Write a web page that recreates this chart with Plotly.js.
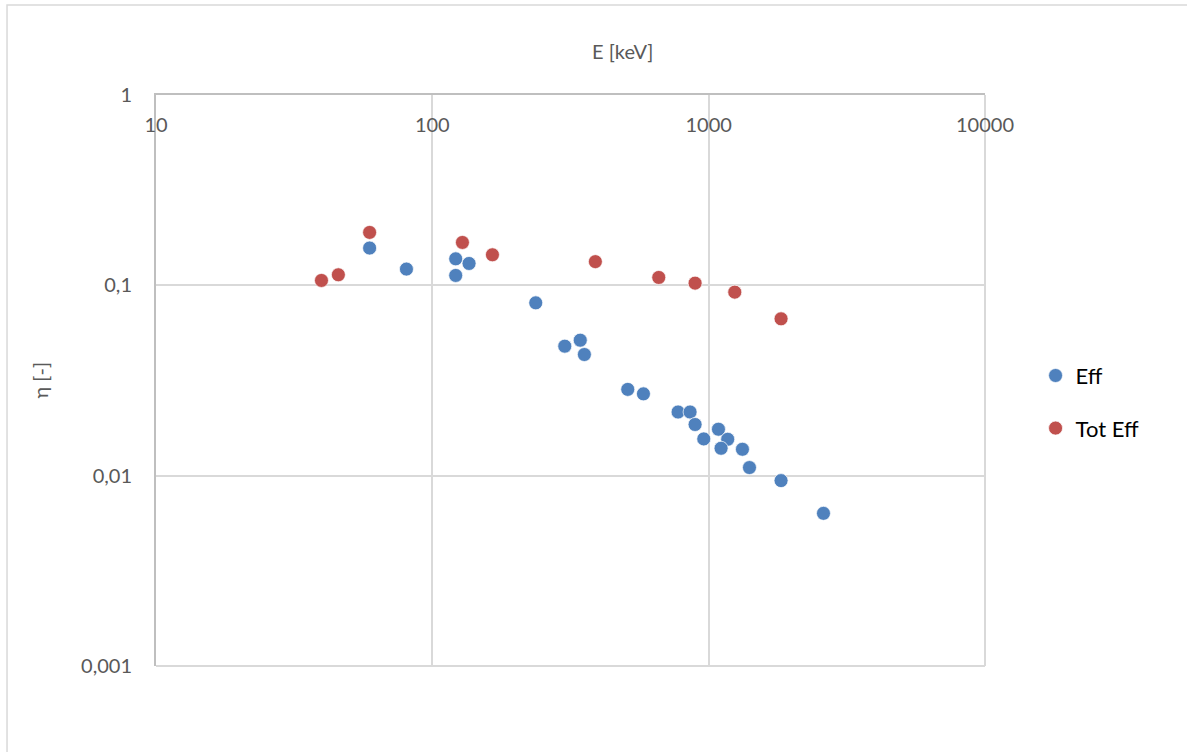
<!DOCTYPE html>
<html>
<head>
<meta charset="utf-8">
<script src="https://cdn.plot.ly/plotly-3.0.1.min.js"></script>
<style>html,body{margin:0;padding:0;background:#fff;}#chart{width:1187px;height:752px;}</style>
</head>
<body>
<div id="chart"></div>
<script>
// Energies [keV] and efficiencies
const effE   = [59.3, 80.6, 121.5, 135.8, 121.5, 236.7, 301.5, 343, 355, 509.6, 580.7, 775, 856.6, 893, 960, 1085, 1172, 1109, 1325, 1405, 1828, 2603];
const effVal = [0.157, 0.1217, 0.1378, 0.1303, 0.1127, 0.0809, 0.0479, 0.0515, 0.0433, 0.0284, 0.0269, 0.0216, 0.0216, 0.01857, 0.0156, 0.01754, 0.01553, 0.01393, 0.01376, 0.01103, 0.00942, 0.00634];
const totE   = [39.7, 45.7, 59.3, 128.5, 165, 389, 659.8, 893, 1243, 1828];
const totVal = [0.1061, 0.1136, 0.1897, 0.168, 0.1447, 0.1332, 0.11, 0.1027, 0.0921, 0.0667];

const seriesNames = ['Eff', 'Tot Eff'];
const xTickVals = [10, 100, 1000, 10000];
const xTickText = ['10', '100', '1000', '10000'];
const yTickVals = [0.001, 0.01, 0.1, 1];
const yTickText = ['0,001', '0,01', '0,1', '1'];

const FONT = 'Lato, "Open Sans", sans-serif';
const GREY = '#595959';
const GRID = '#D9D9D9';

const traces = [
  {
    x: effE, y: effVal, name: seriesNames[0], type: 'scatter', mode: 'markers',
    legendgroup: 'a',
    marker: {color: '#4F81BD', size: 14, line: {color: 'rgba(255,255,255,0.7)', width: 1}}
  },
  {
    x: totE, y: totVal, name: seriesNames[1], type: 'scatter', mode: 'markers',
    legendgroup: 'b',
    marker: {color: '#C0504D', size: 14, line: {color: 'rgba(255,255,255,0.7)', width: 1}}
  }
];

const layout = {
  width: 1187, height: 752,
  margin: {l: 156, r: 202, t: 95, b: 86, pad: 0},
  paper_bgcolor: '#fff', plot_bgcolor: '#fff',
  font: {family: FONT, color: GREY, size: 20},
  showlegend: true,
  legend: {
    x: 1.061, xanchor: 'left', y: 0.462, yanchor: 'middle',
    font: {family: FONT, size: 22, color: '#000'},
    traceorder: 'grouped', tracegroupgap: 21,
    bgcolor: 'rgba(0,0,0,0)'
  },
  xaxis: {
    type: 'log', range: [1, 4], side: 'top',
    tickvals: xTickVals, ticktext: xTickText,
    ticks: '', ticklabelposition: 'inside', ticklabeloverflow: 'allow', ticklabelstandoff: 24,
    showgrid: true, gridcolor: GRID, gridwidth: 2,
    showline: true, linecolor: '#BFBFBF', linewidth: 2, mirror: false,
    tickfont: {family: FONT, size: 20, color: GREY},
    zeroline: false
  },
  yaxis: {
    type: 'log', range: [-3, 0],
    tickvals: yTickVals, ticktext: yTickText,
    ticks: '', ticklabelstandoff: 18,
    showgrid: true, gridcolor: GRID, gridwidth: 2,
    showline: true, linecolor: '#BFBFBF', linewidth: 2,
    tickfont: {family: FONT, size: 20, color: GREY},
    zeroline: false
  },
  annotations: [
    {text: 'E [keV]', xref: 'paper', yref: 'paper', x: 0.563, y: 1.077,
     showarrow: false, xanchor: 'center', yanchor: 'middle',
     font: {family: FONT, size: 20, color: GREY}},
    {text: 'η [-]', xref: 'paper', yref: 'paper', x: -0.14, y: 0.5,
     showarrow: false, xanchor: 'center', yanchor: 'middle', textangle: -90,
     font: {family: FONT, size: 20, color: GREY}}
  ],
  shapes: [
    {type: 'rect', xref: 'paper', yref: 'paper', x0: -0.1797, x1: 1.3, y0: -0.3, y1: 1.1577,
     line: {color: GRID, width: 1.5}, fillcolor: 'rgba(0,0,0,0)', layer: 'below'},
    {type: 'line', xref: 'paper', yref: 'paper', x0: 0, x1: 1, y0: 0, y1: 0,
     line: {color: GRID, width: 2}, layer: 'below'},
    {type: 'line', xref: 'paper', yref: 'paper', x0: 1, x1: 1, y0: 0, y1: 1,
     line: {color: GRID, width: 2}, layer: 'below'}
  ]
};

Plotly.newPlot('chart', traces, layout, {displayModeBar: false, staticPlot: true});
</script>
</body>
</html>
